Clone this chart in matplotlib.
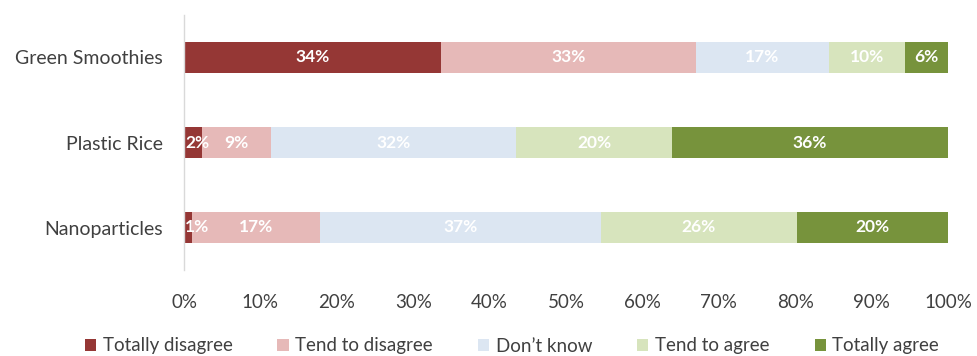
import matplotlib
matplotlib.use("Agg")
import matplotlib.pyplot as plt
import numpy as np

categories = ["Green Smoothies", "Plastic Rice", "Nanoparticles"]
series = ["Totally disagree", "Tend to disagree", "Don\u2019t know", "Tend to agree", "Totally agree"]
totally_disagree = [33.6, 2.4, 1.0]
tend_to_disagree = [33.4, 9.0, 16.8]
dont_know = [17.4, 32.1, 36.8]
tend_to_agree = [10.0, 20.4, 25.6]
totally_agree = [5.6, 36.1, 19.8]
xticks = [0, 10, 20, 30, 40, 50, 60, 70, 80, 90, 100]

colors = ["#953735", "#E6B9B8", "#DCE6F2", "#D7E4BD", "#77933C"]
values = [totally_disagree, tend_to_disagree, dont_know, tend_to_agree, totally_agree]

plt.rcParams['font.family'] = ['Lato', 'DejaVu Sans']

fig = plt.figure(figsize=(9.77, 3.56), dpi=100)
ax = fig.add_axes([184/977, 1-270/356, (948-184)/977, 255/356])

y = np.arange(len(categories))
left = np.zeros(len(categories))
handles = []
for name, vals, c in zip(series, values, colors):
    vals = np.array(vals)
    b = ax.barh(y, vals, left=left, height=0.37, color=c, label=name, linewidth=0)
    handles.append(b)
    for yi, (l, v) in enumerate(zip(left, vals)):
        if l == 0 and v < 3:
            x, ha = l + 0.15, "left"
        else:
            x, ha = l + v/2, "center"
        ax.text(x, yi, f"{v:.0f}%", ha=ha, va="center", color="white",
                fontsize=12.5, fontweight="bold")
    left = left + vals

ax.set_xlim(0, 100)
ax.set_ylim(2.5, -0.5)
ax.set_yticks(y)
ax.set_yticklabels(categories, fontsize=14, color="#404040")
ax.set_xticks(xticks)
ax.set_xticklabels([f"{t}%" for t in xticks], fontsize=13.5, color="#404040")
ax.tick_params(axis="both", length=0)
ax.tick_params(axis="x", pad=17)
ax.tick_params(axis="y", pad=15)
for s in ["top", "right", "bottom"]:
    ax.spines[s].set_visible(False)
ax.spines["left"].set_color("#D9D9D9")
ax.spines["left"].set_linewidth(1)

fig.legend(handles=handles, labels=series, loc="center", bbox_to_anchor=(0.524, 1-346/356),
           ncol=5, frameon=False, fontsize=13.5, handlelength=0.6, handleheight=0.6,
           handletextpad=0.35, columnspacing=2.4, labelcolor="#404040")

fig.savefig("out.png", dpi=100)
